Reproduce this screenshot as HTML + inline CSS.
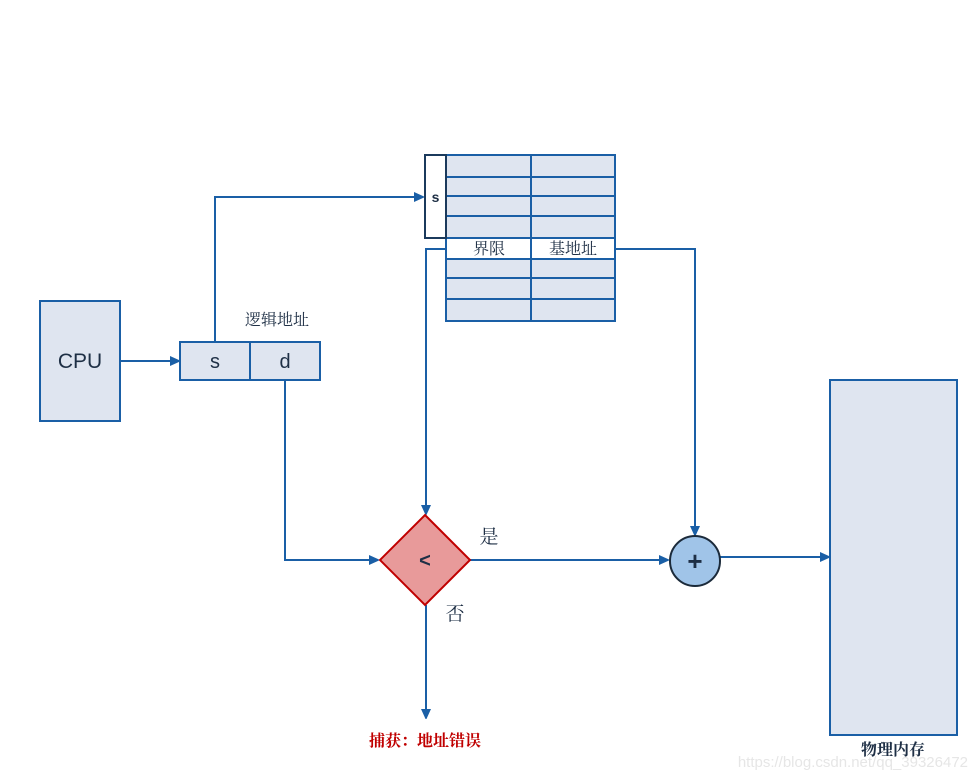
<!DOCTYPE html>
<html><head><meta charset="utf-8"><style>
html,body{margin:0;padding:0;background:#fff;}
svg{display:block;}
.cn{font-family:"Liberation Serif","Noto Serif CJK SC",serif;}
.lat{font-family:"Liberation Sans",sans-serif;}
</style></head><body>
<svg width="977" height="779" viewBox="0 0 977 779" xmlns="http://www.w3.org/2000/svg">
<defs>
<marker id="a" markerWidth="10" markerHeight="10" refX="9" refY="5" orient="auto" markerUnits="userSpaceOnUse"><path d="M0,0 L11,5 L0,10 z" fill="#1a5fa6"/></marker>
</defs>
<g fill="none" stroke="#1a5fa6" stroke-width="2">
<!-- connectors -->
<line x1="120" y1="361" x2="179" y2="361" marker-end="url(#a)"/>
<polyline points="215,342 215,197 423,197" marker-end="url(#a)"/>
<polyline points="285,380 285,560 378,560" marker-end="url(#a)"/>
<polyline points="446,249 426,249 426,514" marker-end="url(#a)"/>
<polyline points="615,249 695,249 695,535" marker-end="url(#a)"/>
<line x1="470" y1="560" x2="668" y2="560" marker-end="url(#a)"/>
<line x1="720" y1="557" x2="829" y2="557" marker-end="url(#a)"/>
<line x1="426" y1="605" x2="426" y2="718" marker-end="url(#a)"/>
</g>
<!-- CPU -->
<rect x="40" y="301" width="80" height="120" fill="#dfe5f0" stroke="#1a5fa6" stroke-width="2"/>
<text x="80" y="368" text-anchor="middle" class="lat" font-size="21" fill="#1e2f45">CPU</text>
<!-- logical address -->
<rect x="180" y="342" width="140" height="38" fill="#dfe5f0" stroke="#1a5fa6" stroke-width="2"/>
<line x1="250" y1="342" x2="250" y2="380" stroke="#1a5fa6" stroke-width="2"/>
<text x="215" y="368" text-anchor="middle" class="lat" font-size="20" fill="#1e2f45">s</text>
<text x="285" y="368" text-anchor="middle" class="lat" font-size="20" fill="#1e2f45">d</text>
<text x="277" y="325" text-anchor="middle" class="cn" font-size="16" fill="#1e2f45">逻辑地址</text>
<!-- table -->
<rect x="446" y="155" width="169" height="166" fill="#dfe5f0" stroke="#1a5fa6" stroke-width="2"/>
<rect x="446" y="238" width="169" height="21" fill="#fff" stroke="#1a5fa6" stroke-width="2"/>
<g stroke="#1a5fa6" stroke-width="2">
<line x1="446" y1="177" x2="615" y2="177"/>
<line x1="446" y1="196" x2="615" y2="196"/>
<line x1="446" y1="216" x2="615" y2="216"/>
<line x1="446" y1="278" x2="615" y2="278"/>
<line x1="446" y1="299" x2="615" y2="299"/>
<line x1="531" y1="155" x2="531" y2="321"/>
</g>
<rect x="425" y="155" width="21" height="83" fill="#fff" stroke="#1b3a5c" stroke-width="2"/>
<text x="435.5" y="202" text-anchor="middle" class="lat" font-size="14" font-weight="bold" fill="#1e2f45">s</text>
<text x="489" y="254" text-anchor="middle" class="cn" font-size="16" fill="#1e2f45">界限</text>
<text x="573" y="254" text-anchor="middle" class="cn" font-size="16" fill="#1e2f45">基地址</text>
<!-- diamond -->
<polygon points="425,515 470,560 425,605 380,560" fill="#e89a9a" stroke="#c00000" stroke-width="2"/>
<text x="425" y="567" text-anchor="middle" class="lat" font-size="20" font-weight="bold" fill="#1e2f45">&lt;</text>
<text x="489" y="543" text-anchor="middle" class="cn" font-size="19" fill="#1e2f45">是</text>
<text x="455" y="620" text-anchor="middle" class="cn" font-size="19" fill="#1e2f45">否</text>
<text x="425" y="746" text-anchor="middle" class="cn" font-size="16" font-weight="bold" fill="#c00000">捕获：地址错误</text>
<!-- adder -->
<circle cx="695" cy="561" r="25" fill="#a0c4e8" stroke="#1b2a3a" stroke-width="2"/>
<text x="695" y="570" text-anchor="middle" class="lat" font-size="26" font-weight="bold" fill="#1e2f45">+</text>
<!-- memory -->
<rect x="830" y="380" width="127" height="355" fill="#dfe5f0" stroke="#1a5fa6" stroke-width="2"/>
<text x="893" y="755" text-anchor="middle" class="cn" font-size="16" font-weight="bold" fill="#1e2f45">物理内存</text>
<text x="968" y="767" text-anchor="end" class="lat" font-size="15" fill="#e6e6e6">https://blog.csdn.net/qq_39326472</text>
</svg>
</body></html>
